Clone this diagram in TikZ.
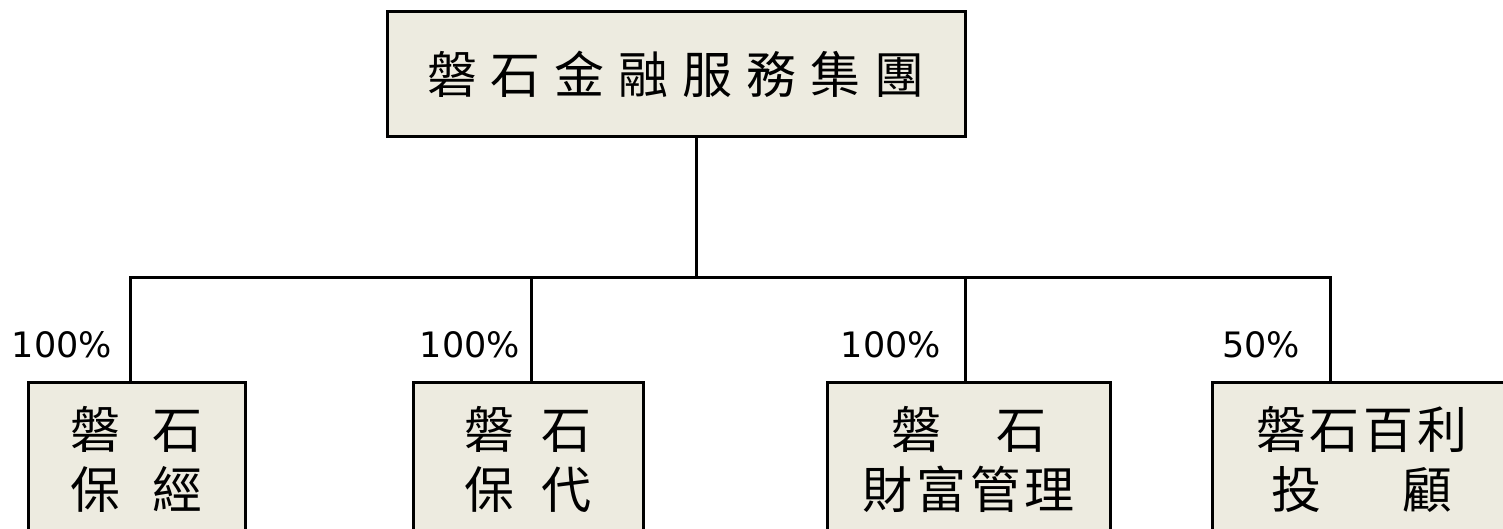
\documentclass[tikz,border=0pt]{standalone}
\usepackage{fontspec}
\newfontfamily\cjk{Noto Sans CJK TC}
\newfontfamily\lblfont{DejaVu Sans}
\definecolor{boxfill}{HTML}{EDEBE0}
\makeatletter
\newcommand\spc[2]{\def\spc@w{#1pt}\spc@loop#2\spc@end}
\def\spc@end{\spc@end}
\def\spc@loop#1{\ifx#1\spc@end\else\makebox[\spc@w]{#1}\expandafter\spc@loop\fi}
\makeatother
\begin{document}
\begin{tikzpicture}[x=1pt,y=-1pt,
  orgbox/.style={draw=black,line width=3pt,fill=boxfill,inner sep=0pt,align=center,
     font=\cjk\fontsize{50}{60}\selectfont,minimum height=155pt},
  pct/.style={inner sep=0pt,font=\lblfont\fontsize{35}{40}\selectfont},
  conn/.style={draw=black,line width=3pt}]
\useasboundingbox (0,0) rectangle (1503,529);
\clip (0,0) rectangle (1503,529);
\fill[white] (0,0) rectangle (1503,529);
\node[orgbox,minimum width=578pt,minimum height=125pt] (top) at (676,74.5) {\raisebox{-3pt}{\spc{64}{磐石金融服務集團}}};
\node[orgbox,minimum width=217pt] (b1) at (136.5,459.5) {\spc{82}{磐石}\\\spc{82}{保經}};
\node[orgbox,minimum width=230pt] (b2) at (528,459.5) {\spc{77}{磐石}\\\spc{77}{保代}};
\node[orgbox,minimum width=283pt] (b3) at (968.5,459.5) {\spc{105}{磐石}\\\spc{54}{財富管理}};
\node[orgbox,minimum width=300pt] (b4) at (1362,459.5) {\spc{54}{磐石百利}\\\spc{131}{投顧}};
\coordinate (j) at (696,277);
\coordinate (c1) at (130,277);
\coordinate (c2) at (531,277);
\coordinate (c3) at (965,277);
\coordinate (c4) at (1330,277);
\draw[conn] (top.south -| j) -- (j);
\draw[conn,line cap=rect] (c1) -- (c4);
\draw[conn] (c1) -- (c1 |- b1.north);
\draw[conn] (c2) -- (c2 |- b2.north);
\draw[conn] (c3) -- (c3 |- b3.north);
\draw[conn] (c4) -- (c4 |- b4.north);
\node[pct] (l1) at (62,345) {100\%};
\node[pct] (l2) at (470,345) {100\%};
\node[pct] (l3) at (891,345) {100\%};
\node[pct] (l4) at (1261,345) {50\%};
\end{tikzpicture}
\end{document}
